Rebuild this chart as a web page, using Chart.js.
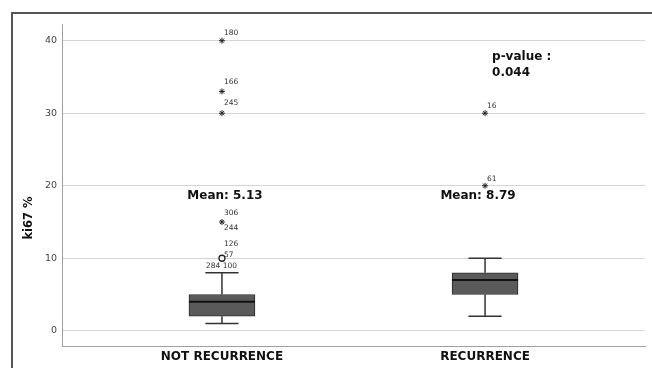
<!DOCTYPE html>
<html>
<head>
<meta charset="utf-8">
<script src="https://cdn.jsdelivr.net/npm/chart.js@4.4.1/dist/chart.umd.min.js"></script>
<style>
  html, body { margin: 0; padding: 0; background: #fff; }
  #wrap { position: relative; width: 652px; height: 368px; overflow: hidden; }
  #frame { position: absolute; left: 11px; top: 12px; width: 660px; height: 400px; border-left: 2px solid #555; border-top: 2px solid #555; }
  canvas { position: absolute; left: 0; top: 0; }
</style>
</head>
<body>
<div id="wrap">
  <div id="frame"></div>
  <canvas id="myChart" width="652" height="368"></canvas>
</div>
<script>
var groups = ["NOT RECURRENCE", "RECURRENCE"];
var lowWhisker = [1, 2];
var q1 = [2, 5];
var medians = [4, 7];
var q3 = [5, 8];
var highWhisker = [8, 10];
var means = [5.13, 8.79];
var pValue = "0.044";
var yTicks = [0, 10, 20, 30, 40];

// outliers: circle = mild, star = extreme
var mildGroup = [1];
var mildValue = [10];
var extremeGroup = [1, 1, 1, 1, 2, 2];
var extremeValue = [15, 30, 33, 40, 20, 30];

// case numbers printed next to the outliers
var caseGroup = [1, 1, 1, 1, 1, 1, 1, 1, 2, 2];
var caseValue = [40, 33, 30, 15, 15, 10, 10, 10, 30, 20];
var caseText = ["180", "166", "245", "306", "244", "126", "57", "284 100", "16", "61"];
// pixel nudges for those numbers (dx, dy)
var caseDx = [2, 2, 2, 2, 2, 2, 2, -16, 2, 2];
var caseDy = [-8, -9, -10, -9, 6, -14, -3, 8, -7, -7];

var boxHalf = 0.1255, capHalf = 0.063;

var boxData = [], whiskerPts = [], medianPts = [];
groups.forEach(function(g, i){
    var x = i + 1;
    boxData.push({x: x, y: [q1[i], q3[i]]});
    whiskerPts.push({x: x, y: q3[i]}, {x: x, y: highWhisker[i]}, {x: x, y: null});
    whiskerPts.push({x: x, y: q1[i]}, {x: x, y: lowWhisker[i]}, {x: x, y: null});
    whiskerPts.push({x: x - capHalf, y: highWhisker[i]}, {x: x + capHalf, y: highWhisker[i]}, {x: x, y: null});
    whiskerPts.push({x: x - capHalf, y: lowWhisker[i]}, {x: x + capHalf, y: lowWhisker[i]}, {x: x, y: null});
    medianPts.push({x: x - boxHalf, y: medians[i]}, {x: x + boxHalf, y: medians[i]}, {x: x, y: null});
});

var extremePts = extremeValue.map(function(v, i){ return {x: extremeGroup[i], y: v}; });
var mildPts = mildValue.map(function(v, i){ return {x: mildGroup[i], y: v}; });

var textPlugin = {
    id: 'texts',
    afterDraw: function(chart){
        var c = chart.ctx, xs = chart.scales.x, ys = chart.scales.y;
        c.save();
        // case numbers
        c.font = '7.5px "DejaVu Sans"';
        c.fillStyle = '#333';
        c.textBaseline = 'middle';
        c.textAlign = 'left';
        caseText.forEach(function(t, i){
            c.fillText(t, xs.getPixelForValue(caseGroup[i]) + caseDx[i], ys.getPixelForValue(caseValue[i]) + caseDy[i]);
        });
        // means
        c.font = 'bold 12px "DejaVu Sans"';
        c.fillStyle = '#111';
        c.textAlign = 'center';
        var meanDx = [3, -7];
        means.forEach(function(m, i){
            c.fillText("Mean: " + m.toFixed(2), xs.getPixelForValue(i + 1) + meanDx[i], ys.getPixelForValue(18.6));
        });
        // p-value
        c.textAlign = 'left';
        c.fillText("p-value :", xs.getPixelForValue(2) + 7, ys.getPixelForValue(37.75));
        c.fillText(pValue, xs.getPixelForValue(2) + 7, ys.getPixelForValue(35.55));
        // y axis title
        c.translate(29, 218);
        c.rotate(-Math.PI / 2);
        c.textAlign = 'center';
        c.font = 'bold 11.5px "DejaVu Sans"';
        c.fillText("ki67 %", 0, 0);
        c.restore();
    }
};

var ctx = document.getElementById("myChart").getContext('2d');
var myChart = new Chart(ctx, {
    type: 'bar',
    data: {
        datasets: [
            {
                type: 'bar',
                data: boxData,
                backgroundColor: '#5a5a5a',
                borderColor: '#2a2a2a',
                borderWidth: 1,
                borderSkipped: false,
                barThickness: 66,
                order: 4
            },
            {
                type: 'line',
                data: whiskerPts,
                borderColor: '#333',
                borderWidth: 1.5,
                pointRadius: 0,
                spanGaps: false,
                fill: false,
                order: 3
            },
            {
                type: 'line',
                data: medianPts,
                borderColor: '#111',
                borderWidth: 2,
                pointRadius: 0,
                spanGaps: false,
                fill: false,
                order: 2
            },
            {
                type: 'scatter',
                data: extremePts,
                pointStyle: 'star',
                pointRadius: 3,
                borderColor: '#222',
                borderWidth: 1,
                order: 1
            },
            {
                type: 'scatter',
                data: mildPts,
                pointStyle: 'circle',
                pointRadius: 3,
                backgroundColor: '#fff',
                borderColor: '#222',
                borderWidth: 1.3,
                order: 0
            }
        ]
    },
    options: {
        responsive: false,
        animation: false,
        layout: { padding: { left: 0, top: 24, right: 7, bottom: 0 } },
        plugins: { legend: { display: false }, tooltip: { enabled: false } },
        scales: {
            x: {
                type: 'linear',
                min: 0.392,
                max: 2.608,
                offset: false,
                grid: { display: false, drawTicks: false },
                border: { color: '#a0a0a0', width: 1 },
                afterBuildTicks: function(s){ s.ticks = groups.map(function(g, i){ return {value: i + 1}; }); },
                afterFit: function(s){ s.height = 22; },
                ticks: {
                    autoSkip: false,
                    maxRotation: 0,
                    padding: 4,
                    color: '#111',
                    font: { family: 'DejaVu Sans', size: 12, weight: 'bold' },
                    callback: function(v){ return groups[v - 1]; }
                }
            },
            y: {
                min: -2.1,
                max: 42.3,
                grid: { color: '#d4d4d4', drawTicks: false },
                border: { color: '#a0a0a0', width: 1 },
                afterBuildTicks: function(s){ s.ticks = yTicks.map(function(v){ return {value: v}; }); },
                afterFit: function(s){ s.width = 62; },
                ticks: {
                    padding: 5,
                    color: '#444',
                    font: { family: 'DejaVu Sans', size: 9.5 }
                }
            }
        }
    },
    plugins: [textPlugin]
});
</script>
</body>
</html>
